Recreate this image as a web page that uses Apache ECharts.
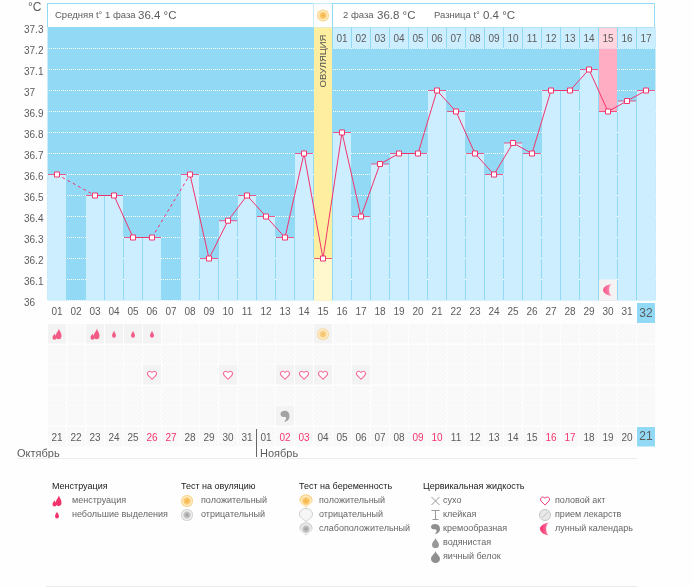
<!DOCTYPE html>
<html>
<head>
<meta charset="utf-8">
<style>
html,body{margin:0;padding:0;background:#fefefe;}
#main{width:693px;height:587px;}
</style>
<script src="https://cdn.jsdelivr.net/npm/echarts@6/dist/echarts.min.js"></script>
</head>
<body>
<div id="main"></div>
<script>
// data
var cycleDays = ['01','02','03','04','05','06','07','08','09','10','11','12','13','14','15','16','17','18','19','20','21','22','23','24','25','26','27','28','29','30','31','32'];
var dates = ['21','22','23','24','25','26','27','28','29','30','31','01','02','03','04','05','06','07','08','09','10','11','12','13','14','15','16','17','18','19','20','21'];
var temps = [36.6,null,36.5,36.5,36.3,36.3,null,36.6,36.2,36.38,36.5,36.4,36.3,36.7,36.2,36.8,36.4,36.65,36.7,36.7,37,36.9,36.7,36.6,36.75,36.7,37,37,37.1,36.9,36.95,37];
var phase2Days = ['01','02','03','04','05','06','07','08','09','10','11','12','13','14','15','16','17'];
var redDates = [5,6,12,13,19,20,26,27];
var rowNames = ['flow','test','love','preg','mucus','date'];
var heavyDays = [0,2];
var lightDays = [3,4,5];
var ovulationTestDays = [14];
var loveDays = [5,9,12,13,14,16];
var creamyDays = [12];
var moonDays = [29];
var ovulationDay = 14;
var peakDay = 29;
var currentDay = 31;

var legendTitles = [['Менструация',52],['Тест на овуляцию',181],['Тест на беременность',299],['Цервикальная жидкость',423]];
var legendRows = [
	['менструация',72,501,'heavy',57],
	['небольшие выделения',72,515,'drop',57],
	['положительный',201,501,'sun',187],
	['отрицательный',201,515,'sunGrey',187],
	['положительный',319,501,'pregPos',306],
	['отрицательный',319,515,'pregNeg',306],
	['слабоположительный',319,529,'pregWeak',306],
	['сухо',443,501,'dry',435.5],
	['клейкая',443,515,'sticky',435.5],
	['кремообразная',443,529,'creamy',435.5],
	['водянистая',443,543,'watery',435.5],
	['яичный белок',443,557,'egg',435.5],
	['половой акт',555,501,'heart',545],
	['прием лекарств',555,515,'pill',545],
	['лунный календарь',555,529,'moon',545]
];

var FONT = '"Liberation Sans", Arial, sans-serif';
var RED = '#f2346c';
var BLUE = '#92d9f6';
var LIGHT = '#cdeeff';
var TXT = '#5c5c5c';

var CIRCLE = 'M0 6a6 6 0 1 0 12 0a6 6 0 1 0 -12 0Z';
var DROP = 'M5 0C6 4 10 6 10 10A5 5 0 0 1 0 10C0 6 4 4 5 0Z';
var HEAVY = 'M10 0C11 3 14 5 14 9A4.500 4.500 0 0 1 5 9C5 8 5.400 7 6 6C7 4 9 3 10 0ZM3 6C3.500 8 6 9 6 11A3 3 0 0 1 0 11C0 9 2.500 8 3 6Z';
var HEART = 'M5 9L1 5C-1 2 2 -1 5 2C8 -1 11 2 9 5Z';
var SWIRL = 'M0 4C0 1 3 0 6 0C10 0 12 3 12 7C12 11 9 14 5 14C7 12 8 10 7 8C5 8 0 8 0 4Z';
var MOON = 'M9 0A6.500 6.500 0 1 0 9 13A2.500 6.500 0 0 1 9 0Z';
var PREG = 'M6 0C9.500 0 12 2.500 12 5.500C12 8.500 9 10 6 12.500C3 10 0 8.500 0 5.500C0 2.500 2.500 0 6 0Z';

function sunFill(c0, c1, c2, c3){
	return new echarts.graphic.RadialGradient(0.5,0.5,0.5,[
		{offset:0,color:c0},{offset:0.5,color:c1},{offset:0.72,color:c2},{offset:1,color:c3}
	]);
}
var moonFill = new echarts.graphic.LinearGradient(0,0,1,0,[{offset:0,color:'#f62a6c'},{offset:0.55,color:'#f9608f'},{offset:1,color:'#ffe3eb'}]);
var sunOrange = sunFill('#f7b040','#fbcb72','#fff0cb','#f8c76c');
var sunGrey = sunFill('#9a9a9a','#c8c8c8','#f4f4f4','#c4c4c4');

var legendIcons = {
	heavy:{d:HEAVY,w:9,h:11,fill:'#f2346c'},
	drop:{d:DROP,w:4,h:7,fill:'#f2346c'},
	sun:{d:CIRCLE,w:12,h:12,fill:sunOrange},
	sunGrey:{d:CIRCLE,w:12,h:12,fill:sunGrey},
	pregPos:{d:PREG,w:13,h:13,fill:sunOrange},
	pregNeg:{d:PREG,w:13,h:13,fill:'#f6f6f6',stroke:'#cfcfcf'},
	pregWeak:{d:PREG,w:13,h:13,fill:sunGrey},
	dry:{d:'M0 0L9 9M9 0L0 9',w:8,h:8,fill:'none',stroke:'#999'},
	sticky:{d:'M0 0L8 0M4 0L4 9M1 9L7 9',w:8,h:9,fill:'none',stroke:'#999'},
	creamy:{d:SWIRL,w:9,h:10,fill:'#8f8f8f'},
	watery:{d:DROP,w:7,h:10,fill:'#999'},
	egg:{d:DROP,w:9,h:12,fill:'#8f8f8f'},
	heart:{d:HEART,w:9,h:8,fill:'none',stroke:'#f2487c'},
	pill:{d:CIRCLE+'M3 9L9 3',w:11,h:11,fill:'#e8e8e8',stroke:'#c4c4c4'},
	moon:{d:MOON,w:10,h:13,fill:moonFill}
};

// bottom cells have a faint hatch
function hatch(){
	var c = document.createElement('canvas');
	c.width = 4; c.height = 4;
	var ctx = c.getContext('2d');
	ctx.fillStyle = '#fbfafb';
	ctx.fillRect(0,0,4,4);
	ctx.fillStyle = '#f5f4f6';
	ctx.fillRect(0,0,1,1);ctx.fillRect(1,1,1,1);ctx.fillRect(2,2,1,1);ctx.fillRect(3,3,1,1);
	return {image:c,repeat:'repeat'};
}
var hatchFill = hatch();

function pick(days, row){
	return days.map(function(d){return [d,row];});
}
// days without a reading are bridged by a dashed line
function gapLines(){
	var res = [];
	for(var i=0;i<temps.length;i++){
		if(temps[i]===null){
			res.push(temps.map(function(v,k){return (k===i-1||k===i+1)?v:null;}));
		}
	}
	return res;
}

var filled = {};
[[heavyDays,0],[lightDays,0],[ovulationTestDays,0],[loveDays,2],[creamyDays,4]].forEach(function(p){
	p[0].forEach(function(d){filled[d+'_'+p[1]] = true;});
});
var cellData = [];
cycleDays.forEach(function(d,i){
	rowNames.forEach(function(r,j){cellData.push([i,j]);});
});

var graphic = [
	{type:'rect',shape:{x:47.5,y:3.5,width:266,height:24},style:{fill:'#fff',stroke:BLUE}},
	{type:'rect',shape:{x:313.5,y:3.5,width:19,height:24},style:{fill:'#fff',stroke:'#c9ecfa'}},
	{type:'rect',shape:{x:332.5,y:3.5,width:322,height:24},style:{fill:'#fff',stroke:BLUE}},
	{type:'text',x:28,y:2,style:{text:'°C',font:'12px '+FONT,fill:TXT}},
	{type:'text',x:55,y:10.5,style:{text:'Средняя t° 1 фаза',font:'9.5px '+FONT,fill:TXT}},
	{type:'text',x:138,y:10,style:{text:'36.4 °C',font:'11.5px '+FONT,fill:TXT}},
	{type:'text',x:343,y:10.5,style:{text:'2 фаза',font:'9.5px '+FONT,fill:TXT}},
	{type:'text',x:377,y:10,style:{text:'36.8 °C',font:'11.5px '+FONT,fill:TXT}},
	{type:'text',x:434,y:10.5,style:{text:'Разница t°',font:'9.5px '+FONT,fill:TXT}},
	{type:'text',x:483,y:10,style:{text:'0.4 °C',font:'11.5px '+FONT,fill:TXT}},
	{type:'text',x:323,y:61,rotation:Math.PI/2,z:10,style:{text:'ОВУЛЯЦИЯ',font:'9.5px '+FONT,fill:'#555',align:'center',verticalAlign:'middle'}},
	{type:'text',x:17,y:448,style:{text:'Октябрь',font:'11px '+FONT,fill:TXT}},
	{type:'text',x:260,y:448,style:{text:'Ноябрь',font:'11px '+FONT,fill:TXT}},
	{type:'line',shape:{x1:256.5,y1:429,x2:256.5,y2:457},style:{stroke:'#666'}},
	{type:'line',shape:{x1:17,y1:458.5,x2:637,y2:458.5},style:{stroke:'#ececec'}},
	{type:'line',shape:{x1:46,y1:586.5,x2:637,y2:586.5},style:{stroke:'#ececec'}}
];
legendTitles.forEach(function(t){
	graphic.push({type:'text',x:t[1],y:482.5,style:{text:t[0],font:'9px '+FONT,fill:'#1a1a1a'}});
});
legendRows.forEach(function(r){
	graphic.push({type:'text',x:r[1],y:r[2]-5,style:{text:r[0],font:'9px '+FONT,fill:'#666'}});
});

var series = [
	// ovulation and peak columns behind the bars
	{type:'bar',barWidth:18,barGap:'-100%',silent:true,
		data:temps.map(function(v,i){
			if(i===ovulationDay) return {value:37.3,itemStyle:{color:'#fdef9f'}};
			if(i===peakDay) return {value:37.2,itemStyle:{color:'#ffadc2'}};
			return null;
		})},
	{type:'bar',barWidth:18,barGap:'-100%',silent:true,
		data:temps.map(function(v,i){
			return {value:v,itemStyle:{color:i===ovulationDay?'#fff7cd':LIGHT}};
		})},
	// moon cell at the foot of the column
	{type:'bar',barWidth:18,barGap:'-100%',silent:true,
		data:temps.map(function(v,i){
			return moonDays.indexOf(i)>=0?{value:36.1,itemStyle:{color:'#f4f3f4'}}:null;
		})},
	// day numbers of the second phase
	{type:'custom',silent:true,z:5,
		data:phase2Days.map(function(d,i){return [ovulationDay+1+i];}),
		encode:{x:0},
		renderItem:function(params,api){
			var i = api.value(0);
			var top = api.coord([i,37.3]);
			var bottom = api.coord([i,37.2]);
			var w = api.size([1,0])[0];
			return {type:'group',children:[
				{type:'rect',shape:{x:top[0]-w/2+0.5,y:top[1],width:w-1,height:bottom[1]-top[1]},
					style:{fill:i===peakDay?'#ffd6e0':LIGHT}},
				{type:'text',x:top[0],y:(top[1]+bottom[1])/2+1.5,
					style:{text:phase2Days[params.dataIndex],font:'10px '+FONT,fill:TXT,align:'center',verticalAlign:'middle'}}
			]};
		}},
	// blue cell under the current cycle day
	{type:'custom',silent:true,z:1,clip:false,
		data:[[currentDay]],
		encode:{x:0},
		renderItem:function(params,api){
			var c = api.coord([api.value(0),36]);
			var w = api.size([1,0])[0];
			return {type:'rect',shape:{x:c[0]-w/2+0.5,y:c[1]+2.5,width:w-1,height:20},style:{fill:BLUE}};
		}},
	// cap over each column
	{type:'scatter',z:6,silent:true,symbol:'rect',symbolSize:[18,1],itemStyle:{color:RED},
		data:temps.map(function(v,i){return v===null?null:[i,v];}).filter(function(p){return p;})},
	// the moon
	{type:'scatter',z:6,silent:true,symbol:'path://'+MOON,symbolSize:[10,12],itemStyle:{color:moonFill},
		data:moonDays.map(function(d){return [d,36.05];})},
	{type:'line',z:8,silent:true,data:temps,symbol:'rect',symbolSize:5,showAllSymbol:true,connectNulls:false,
		lineStyle:{color:RED,width:1},
		itemStyle:{color:'#fff',borderColor:RED,borderWidth:1}},
	// lower table
	{type:'custom',xAxisIndex:1,yAxisIndex:1,silent:true,data:cellData,encode:{x:0,y:1},
		renderItem:function(params,api){
			var i = api.value(0), j = api.value(1);
			var c = api.coord([i,j]);
			var s = api.size([1,1]);
			var fill = hatchFill;
			if(filled[i+'_'+j]) fill = '#f4f3f4';
			if(j===5 && i===currentDay) fill = BLUE;
			return {type:'rect',shape:{x:c[0]-s[0]/2+0.5,y:Math.round(c[1]-s[1]/2),width:s[0]-1,height:19.5},style:{fill:fill}};
		}},
	{type:'scatter',xAxisIndex:1,yAxisIndex:1,silent:true,z:5,symbol:'path://'+HEAVY,symbolSize:[9,11],itemStyle:{color:RED},data:pick(heavyDays,0)},
	{type:'scatter',xAxisIndex:1,yAxisIndex:1,silent:true,z:5,symbol:'path://'+DROP,symbolSize:[4,7],itemStyle:{color:RED},data:pick(lightDays,0)},
	{type:'scatter',xAxisIndex:1,yAxisIndex:1,silent:true,z:5,symbol:'circle',symbolSize:12,itemStyle:{color:sunOrange},data:pick(ovulationTestDays,0)},
	{type:'scatter',xAxisIndex:1,yAxisIndex:1,silent:true,z:5,symbol:'path://'+HEART,symbolSize:[9,8],
		itemStyle:{color:'#fff',borderColor:'#f2487c',borderWidth:1},data:pick(loveDays,2)},
	{type:'scatter',xAxisIndex:1,yAxisIndex:1,silent:true,z:5,symbol:'path://'+SWIRL,symbolSize:[9,11],itemStyle:{color:'#8f8f8f'},data:pick(creamyDays,4)},
	// legend pictures and the sun in the header
	{type:'custom',coordinateSystem:'none',silent:true,z:20,
		data:legendRows.concat([['',0,15.5,'sun',323]]).map(function(r,i){return [i];}),
		renderItem:function(params){
			var r = legendRows[params.dataIndex] || ['',0,15.5,'sun',323];
			var ic = legendIcons[r[3]];
			return {type:'path',
				shape:{pathData:ic.d,x:r[4]-ic.w/2,y:r[2]-ic.h/2,width:ic.w,height:ic.h,layout:'cover'},
				style:{fill:ic.fill,stroke:ic.stroke||null,lineWidth:1}};
		}}
];
gapLines().forEach(function(d){
	series.push({type:'line',z:7,silent:true,data:d,symbol:'none',connectNulls:true,
		lineStyle:{color:RED,width:1,type:[3,3]}});
});

var option = {
	animation:false,
	backgroundColor:'#fefefe',
	textStyle:{fontFamily:FONT},
	graphic:graphic,
	grid:[
		{left:47.5,top:27.5,width:608,height:273,show:true,backgroundColor:BLUE,borderWidth:0},
		{left:47.5,top:324,width:608,height:123,show:false}
	],
	xAxis:[
		{type:'category',gridIndex:0,data:cycleDays,z:10,
			axisLine:{show:false},axisTick:{show:false},
			axisLabel:{interval:0,margin:7,fontSize:10,color:TXT,
				formatter:function(v,i){return i===currentDay?'{cur|'+v+'}':v;},
				rich:{cur:{fontSize:12,color:TXT}}}},
		{type:'category',gridIndex:1,data:dates,z:10,
			axisLine:{show:false},axisTick:{show:false},
			axisLabel:{interval:0,inside:true,margin:4,fontSize:10,color:TXT,
				formatter:function(v,i){
					if(i===currentDay) return '{cur|'+v+'}';
					return redDates.indexOf(i)>=0?'{red|'+v+'}':v;
				},
				rich:{red:{color:RED,fontSize:10},cur:{fontSize:12,color:TXT}}}}
	],
	yAxis:[
		{type:'value',gridIndex:0,min:36,max:37.3,interval:0.1,
			axisLine:{show:false},axisTick:{show:false},
			splitLine:{show:true,showMaxLine:false,lineStyle:{color:'#fff',width:1,type:[1,1],dashOffset:0.5}},
			axisLabel:{margin:23.5,align:'left',verticalAlign:'top',lineHeight:5,fontSize:10,color:TXT}},
		{type:'category',gridIndex:1,data:rowNames,inverse:true,show:false}
	],
	series:series
};

var myChart = echarts.init(document.getElementById('main'));
myChart.setOption(option);
</script>
</body>
</html>
